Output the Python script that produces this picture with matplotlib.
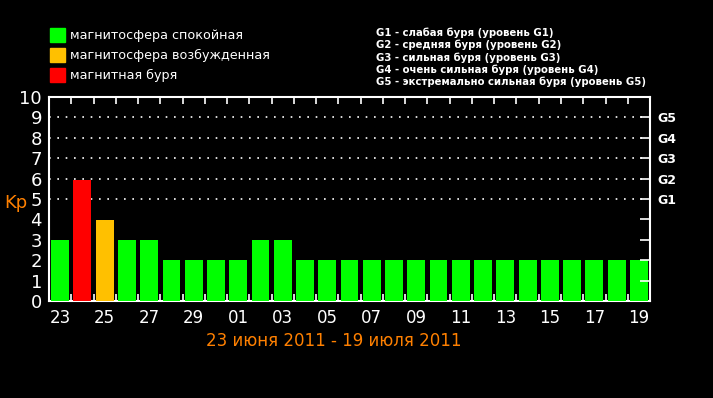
import numpy as np
import matplotlib.pyplot as plt
from matplotlib.patches import Rectangle

# daily Kp values, 23 June - 19 July 2011
days = ["23", "24", "25", "26", "27", "28", "29", "30", "01", "02", "03", "04", "05", "06",
        "07", "08", "09", "10", "11", "12", "13", "14", "15", "16", "17", "18", "19"]
kp = [3, 5.93, 3.97, 3, 3, 2, 2, 2, 2, 3, 3, 2, 2, 2, 2, 2, 2, 2, 2, 2, 2, 2, 2, 2, 2, 2, 2]

legend_labels = ["магнитосфера спокойная", "магнитосфера возбужденная", "магнитная буря"]
g_levels = ["G1", "G2", "G3", "G4", "G5"]
g_lines = ["G1 - слабая буря (уровень G1)",
           "G2 - средняя буря (уровень G2)",
           "G3 - сильная буря (уровень G3)",
           "G4 - очень сильная буря (уровень G4)",
           "G5 - экстремально сильная буря (уровень G5)"]

GREEN, YELLOW, RED, ORANGE = "#00ff00", "#ffc000", "#ff0000", "#ff8000"


def kp_color(v):
    if v >= 5:
        return RED
    if v > 3.5:
        return YELLOW
    return GREEN


fig = plt.figure(figsize=(7.13, 3.98), dpi=100, facecolor="black")
ax = fig.add_axes([0.0687, 0.2437, 0.843, 0.5126])
ax.set_facecolor("black")

x = np.arange(len(days))
ax.bar(x, kp, width=0.8, color=[kp_color(v) for v in kp], zorder=3)

ax.set_xlim(-0.5, len(days) - 0.5)
ax.set_ylim(0, 10)

# dotted storm-level lines
for lvl in range(5, 10):
    ax.plot([-0.5, len(days) - 0.85], [lvl, lvl], color="white", lw=1.2,
            linestyle=(0, (1, 4)), zorder=2)

for s in ax.spines.values():
    s.set_color("white")
    s.set_linewidth(1.5)

# bottom labels on every second day, ticks on day boundaries
ax.set_xticks(x[::2])
ax.set_xticklabels(days[::2], color="white", fontsize=12)
ax.tick_params(axis="x", which="major", length=0, pad=6)
ax.set_xticks(x[:-1] + 0.5, minor=True)
ax.tick_params(axis="x", which="minor", direction="in", length=5, color="white",
               top=True, bottom=True, width=1.2)

ax.set_yticks(range(0, 11))
ax.set_yticklabels([str(i) for i in range(11)], color="white", fontsize=13)
ax.tick_params(axis="y", length=0, pad=5)

# right-side inward ticks and storm labels
ax2 = ax.twinx()
ax2.set_ylim(0, 10)
ax2.set_yticks(range(1, 10))
ax2.set_yticklabels(["", "", "", ""] + g_levels, color="white", fontsize=9, fontweight="bold")
ax2.tick_params(axis="y", direction="in", length=7, color="white", width=1.2, pad=5)
for s in ax2.spines.values():
    s.set_visible(False)

fig.text(0.006, 0.49, "Kp", color=ORANGE, fontsize=13, va="center")
fig.text(0.468, 0.143, "23 июня 2011 - 19 июля 2011", color=ORANGE, fontsize=12,
         ha="center", va="center")

# colour legend
for i, (lab, col) in enumerate(zip(legend_labels, [GREEN, YELLOW, RED])):
    ytop = 28 + i * 20
    fig.patches.append(Rectangle((50 / 713, 1 - (ytop + 14) / 398), 15 / 713, 14 / 398,
                                 transform=fig.transFigure, color=col))
    fig.text(70 / 713, 1 - (ytop + 7) / 398, lab, color="white", fontsize=9.2, va="center")

for i, line in enumerate(g_lines):
    fig.text(376 / 713, 1 - (33 + i * 12.2) / 398, line, color="white", fontsize=7.3,
             fontweight="bold", va="center")

fig.savefig("out.png", dpi=100, facecolor="black")
